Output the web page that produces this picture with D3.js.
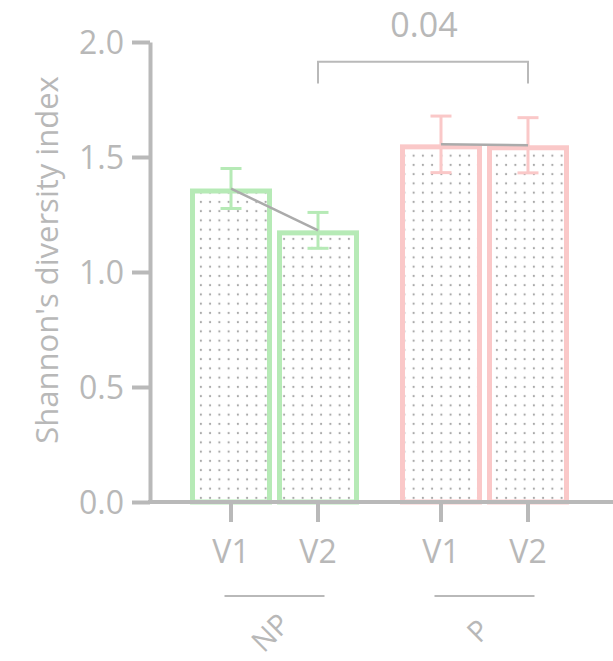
<!DOCTYPE html>
<html><head><meta charset="utf-8">
<script src="https://cdn.jsdelivr.net/npm/d3@7"></script>
<style>
html,body{margin:0;padding:0;background:#fff;}
text{font-family:"Open Sans","Noto Sans",sans-serif;font-weight:400;fill:#b8b8b8;}
</style></head>
<body>
<svg id="c" width="613" height="661"></svg>
<script>
const groups = ["NP", "P"];
const visits = ["V1", "V2"];
const meanNP = [1.363, 1.181];
const semNP = [0.087, 0.078];
const meanP = [1.555, 1.551];
const semP = [0.123, 0.120];
const yTicks = [0, 0.5, 1.0, 1.5, 2.0];
const pLabel = "0.04";
const yTitle = "Shannon's diversity index";

const colors = {NP: "#b6eab6", P: "#fac8c8"};
const axisColor = "#b9b9b9";
const means = {NP: meanNP, P: meanP};
const sems = {NP: semNP, P: semP};

const svg = d3.select("#c");
const y = d3.scaleLinear().domain([0, 2]).range([502, 42]);
const x0 = d3.scaleBand().domain(groups).range([150, 609]).paddingInner(0.1714).paddingOuter(0.1786);
const x1 = d3.scaleBand().domain(visits).range([0, x0.bandwidth()]).paddingInner(0.0575).paddingOuter(0.02875);

// dot pattern
const defs = svg.append("defs");
const pat = defs.append("pattern").attr("id", "dots").attr("patternUnits", "userSpaceOnUse")
  .attr("width", 9.25).attr("height", 9.25).attr("x", 2).attr("y", 3);
pat.append("circle").attr("cx", 4.6).attr("cy", 4.6).attr("r", 1.1).attr("fill", "#a9a9a9");

const data = [];
groups.forEach(g => visits.forEach((v, i) => data.push({g, v, mean: means[g][i], sem: sems[g][i]})));
const cx = d => x0(d.g) + x1(d.v) + x1.bandwidth() / 2;

const sw = 5;
// bars (stroke drawn inside)
svg.append("g").selectAll("rect").data(data).join("rect")
  .attr("x", d => x0(d.g) + x1(d.v) + sw / 2)
  .attr("y", d => y(d.mean) + sw / 2)
  .attr("width", x1.bandwidth() - sw)
  .attr("height", d => y(0) - y(d.mean) - sw / 2)
  .attr("fill", "url(#dots)")
  .attr("stroke", d => colors[d.g])
  .attr("stroke-width", sw);

// error bars
const eb = svg.append("g").selectAll("g").data(data).join("g").attr("stroke", d => colors[d.g]).attr("stroke-width", 3);
eb.append("line").attr("x1", cx).attr("x2", cx).attr("y1", d => y(d.mean + d.sem)).attr("y2", d => y(d.mean - d.sem));
eb.append("line").attr("x1", d => cx(d) - 10.5).attr("x2", d => cx(d) + 10.5).attr("y1", d => y(d.mean + d.sem)).attr("y2", d => y(d.mean + d.sem));
eb.append("line").attr("x1", d => cx(d) - 10.5).attr("x2", d => cx(d) + 10.5).attr("y1", d => y(d.mean - d.sem)).attr("y2", d => y(d.mean - d.sem));

// mean connecting lines
groups.forEach(g => {
  const pts = data.filter(d => d.g === g);
  svg.append("path").attr("d", d3.line().x(cx).y(d => y(d.mean))(pts))
    .attr("fill", "none").attr("stroke", "#ababab").attr("stroke-width", 2.5);
});

// y axis
const ya = svg.append("g").attr("transform", "translate(150,0)")
  .call(d3.axisLeft(y).tickValues(yTicks).tickFormat(d3.format(".1f")).tickSize(18).tickSizeOuter(0).tickPadding(8));
ya.select(".domain").attr("stroke", axisColor).attr("stroke-width", 4);
ya.selectAll(".tick line").attr("stroke", axisColor).attr("stroke-width", 4);
ya.selectAll(".tick text").style("font-size", "32px").attr("fill", null).attr("dy", "0.36em");

// x axis
svg.append("line").attr("x1", 148).attr("x2", 613).attr("y1", y(0)).attr("y2", y(0))
  .attr("stroke", axisColor).attr("stroke-width", 4);
const xt = svg.append("g").selectAll("g").data(data).join("g").attr("transform", d => `translate(${cx(d)},${y(0)})`);
xt.append("line").attr("y1", 0).attr("y2", 20).attr("stroke", axisColor).attr("stroke-width", 4);
xt.append("text").attr("y", 61).attr("text-anchor", "middle").style("font-size", "32px").text(d => d.v);

// group lines & labels
const gl = svg.append("g").selectAll("g").data(groups).join("g")
  .attr("transform", g => `translate(${x0(g) + x0.bandwidth() / 2},596)`);
gl.append("line").attr("x1", -50).attr("x2", 50).attr("stroke", axisColor).attr("stroke-width", 2);
gl.append("text").attr("transform", g => g === "NP" ? "translate(17,30) rotate(-45)" : "translate(7,36) rotate(-45)")
  .attr("text-anchor", "end").style("font-size", "29px").text(g => g);

// y title
svg.append("text").attr("transform", "translate(58,260) rotate(-90)").attr("text-anchor", "middle")
  .style("font-size", "31px").text(yTitle);

// significance bracket
const b1 = data.find(d => d.g === "NP" && d.v === "V2");
const b2 = data.find(d => d.g === "P" && d.v === "V2");
const by = y(1.914), byl = y(1.82);
svg.append("path").attr("d", `M${cx(b1)},${byl}V${by}H${cx(b2)}V${byl}`)
  .attr("fill", "none").attr("stroke", axisColor).attr("stroke-width", 2);
svg.append("text").attr("x", (cx(b1) + cx(b2)) / 2 + 1).attr("y", 37).attr("text-anchor", "middle")
  .style("font-size", "34px").text(pLabel);
</script>
</body></html>
